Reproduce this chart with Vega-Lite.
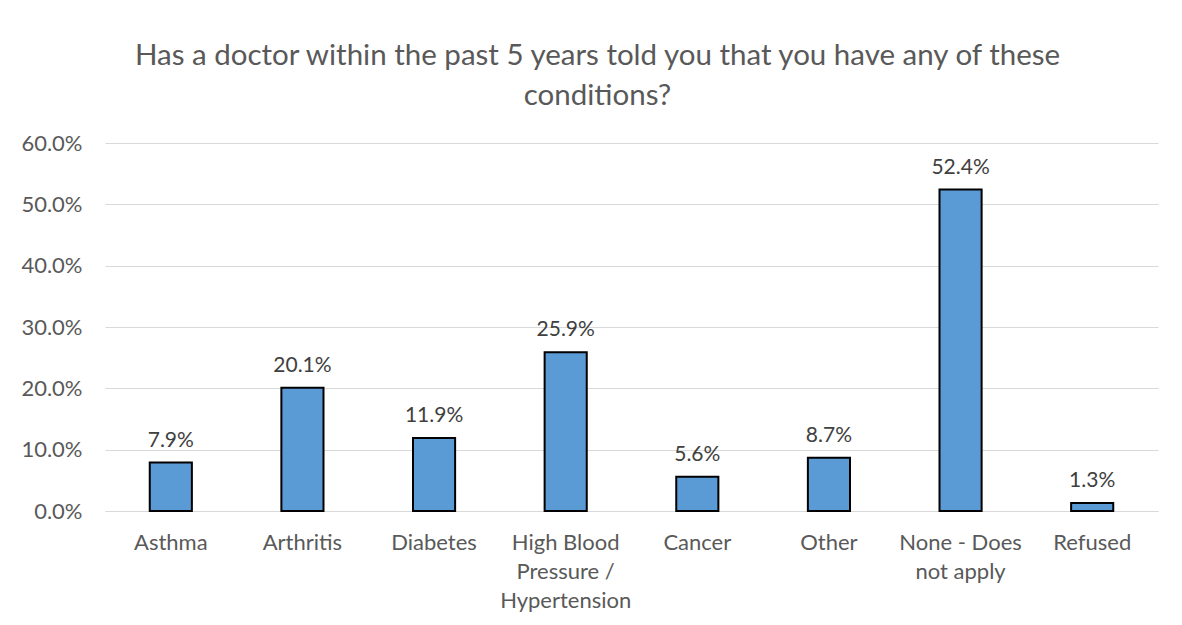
{
  "$schema": "https://vega.github.io/schema/vega-lite/v6.json",
  "width": 1053,
  "height": 368,
  "autosize": {"type": "none"},
  "padding": {"left": 105, "top": 143, "right": 24, "bottom": 114},
  "background": "white",
  "title": {
    "text": ["Has a doctor within the past 5 years told you that you have any of these", "conditions?"],
    "font": "Lato",
    "fontSize": 29.5,
    "fontWeight": "normal",
    "color": "#595959",
    "lineHeight": 40,
    "anchor": "middle",
    "frame": "group",
    "dx": -34,
    "offset": 21
  },
  "data": {
    "values": [
      {"condition": "Asthma", "value": 0.079},
      {"condition": "Arthritis", "value": 0.201},
      {"condition": "Diabetes", "value": 0.119},
      {"condition": "High Blood Pressure / Hypertension", "value": 0.259},
      {"condition": "Cancer", "value": 0.056},
      {"condition": "Other", "value": 0.087},
      {"condition": "None - Does not apply", "value": 0.524},
      {"condition": "Refused", "value": 0.013}
    ]
  },
  "encoding": {
    "x": {
      "field": "condition",
      "type": "nominal",
      "sort": null,
      "scale": {"paddingInner": 0.68, "paddingOuter": 0.34},
      "axis": {
        "title": null,
        "labelAngle": 0,
        "labelFont": "Lato",
        "labelFontSize": 22,
        "labelColor": "#595959",
        "labelPadding": 21,
        "labelLineHeight": 29,
        "labelBaseline": "top",
        "ticks": false,
        "domainColor": "#d9d9d9",
        "domainWidth": 1,
        "labelExpr": "datum.label == 'High Blood Pressure / Hypertension' ? ['High Blood', 'Pressure /', 'Hypertension'] : datum.label == 'None - Does not apply' ? ['None - Does', 'not apply'] : datum.label"
      }
    },
    "y": {
      "field": "value",
      "type": "quantitative",
      "scale": {"domain": [0, 0.6]},
      "axis": {
        "title": null,
        "values": [0, 0.1, 0.2, 0.3, 0.4, 0.5, 0.6],
        "format": ".1%",
        "labelFont": "Lato",
        "labelFontSize": 22,
        "labelColor": "#595959",
        "labelPadding": 23,
        "ticks": false,
        "domain": false,
        "gridColor": "#d9d9d9",
        "gridWidth": 1
      }
    }
  },
  "layer": [
    {
      "mark": {"type": "bar", "fill": "#5B9BD5", "stroke": "#000000", "strokeWidth": 2}
    },
    {
      "mark": {"type": "text", "baseline": "bottom", "dy": -12, "font": "Lato", "fontSize": 21, "color": "#404040"},
      "encoding": {
        "text": {"field": "value", "type": "quantitative", "format": ".1%"}
      }
    }
  ],
  "config": {"view": {"stroke": null}}
}
